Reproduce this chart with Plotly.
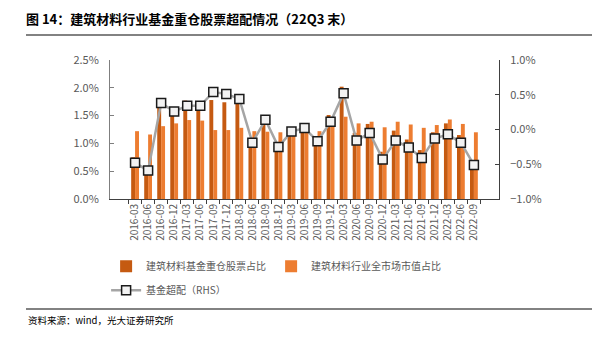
import plotly.graph_objects as go

categories = ["2016-03","2016-06","2016-09","2016-12","2017-03","2017-06","2017-09","2017-12",
              "2018-03","2018-06","2018-09","2018-12","2019-03","2019-06","2019-09","2019-12",
              "2020-03","2020-06","2020-09","2020-12","2021-03","2021-06","2021-09","2021-12",
              "2022-03","2022-06","2022-09"]
fund_weight = [0.75,0.57,1.70,1.60,1.77,1.75,1.78,1.74,1.72,1.03,1.36,0.94,1.24,1.30,1.04,1.51,
               2.02,1.19,1.35,0.85,1.23,1.07,0.88,1.20,1.36,1.15,0.69]
market_weight = [1.22,1.16,1.31,1.36,1.42,1.41,1.24,1.24,1.28,1.22,1.21,1.20,1.26,1.28,1.22,1.41,
                 1.48,1.36,1.39,1.29,1.39,1.34,1.28,1.33,1.43,1.35,1.20]
overweight = [-0.48,-0.59,0.38,0.26,0.34,0.34,0.54,0.51,0.44,-0.19,0.14,-0.25,-0.03,0.02,-0.17,0.11,
              0.52,-0.16,-0.05,-0.43,-0.16,-0.26,-0.41,-0.13,-0.07,-0.19,-0.51]

names = ["建筑材料基金重仓股票占比", "建筑材料行业全市场市值占比", "基金超配（RHS）"]

FONT = "Noto Sans CJK SC"
GRAY = "#595959"

fig = go.Figure()
fig.add_trace(go.Bar(x=categories, y=[v/100 for v in fund_weight], name=names[0],
                     marker=dict(color="#C55A11", line=dict(width=0)), legend="legend"))
fig.add_trace(go.Bar(x=categories, y=[v/100 for v in market_weight], name=names[1],
                     marker=dict(color="#ED7D31", line=dict(width=0)), legend="legend"))
fig.add_trace(go.Scatter(x=categories, y=[v/100 for v in overweight], name=names[2], yaxis="y2",
                         mode="lines+markers", legend="legend2",
                         line=dict(color="#A5A5A5", width=2.5),
                         marker=dict(symbol="square", size=9, color="#F2F2F2",
                                     line=dict(color="#1A1A1A", width=1.5))))

fig.update_layout(
    width=592, height=338,
    margin=dict(l=110, r=93, t=60, b=139),
    paper_bgcolor="white", plot_bgcolor="white",
    font=dict(family=FONT, color=GRAY, size=10),
    barmode="group", bargap=0.4, bargroupgap=0,
    showlegend=True,
    legend=dict(orientation="h", x=-0.01, y=-0.38, xanchor="left", yanchor="top",
                font=dict(size=10, color=GRAY, family=FONT)),
    legend2=dict(orientation="h", x=-0.01, y=-0.553, xanchor="left", yanchor="top",
                 font=dict(size=10, color=GRAY, family=FONT)),
    title=dict(text="<b>图 14：建筑材料行业基金重仓股票超配情况（22Q3 末）</b>",
               x=26/592, xanchor="left", xref="container",
               y=1-19/338, yanchor="middle", yref="container",
               font=dict(size=13, color="#000000", family=FONT)),
    xaxis=dict(type="category", tickangle=-90, tickson="boundaries",
               ticks="outside", ticklen=4, tickcolor="#404040",
               showline=True, linecolor="#404040", linewidth=1,
               tickfont=dict(size=10, color=GRAY), showgrid=False),
    yaxis=dict(range=[0, 0.025], dtick=0.005, tickformat=".1%",
               showline=True, linecolor="#7F7F7F", linewidth=1,
               ticks="inside", ticklen=4, tickcolor="#7F7F7F",
               showgrid=False, zeroline=False,
               tickfont=dict(size=11, color=GRAY), ticklabelstandoff=8),
    yaxis2=dict(range=[-0.01, 0.01], dtick=0.005, tickformat=".1%",
                overlaying="y", side="right",
                showline=True, linecolor="#404040", linewidth=1,
                ticks="inside", ticklen=4, tickcolor="#404040",
                showgrid=False, zeroline=False,
                tickfont=dict(size=11, color=GRAY), ticklabelstandoff=8),
)

x0 = -84/389
x1 = 482/389
fig.add_shape(type="line", xref="paper", yref="paper", x0=x0, x1=x1, y0=1+25/139, y1=1+25/139,
              line=dict(color="#595959", width=1.5))
fig.add_shape(type="line", xref="paper", yref="paper", x0=x0, x1=x1, y0=-110/139, y1=-110/139,
              line=dict(color="#595959", width=1.5))
fig.add_annotation(text="资料来源：wind，光大证券研究所", xref="paper", yref="paper",
                   x=x0, y=-112/139, xanchor="left", yanchor="top", showarrow=False,
                   font=dict(size=9.5, color="#000000", family=FONT))

fig.write_html("out.html")
